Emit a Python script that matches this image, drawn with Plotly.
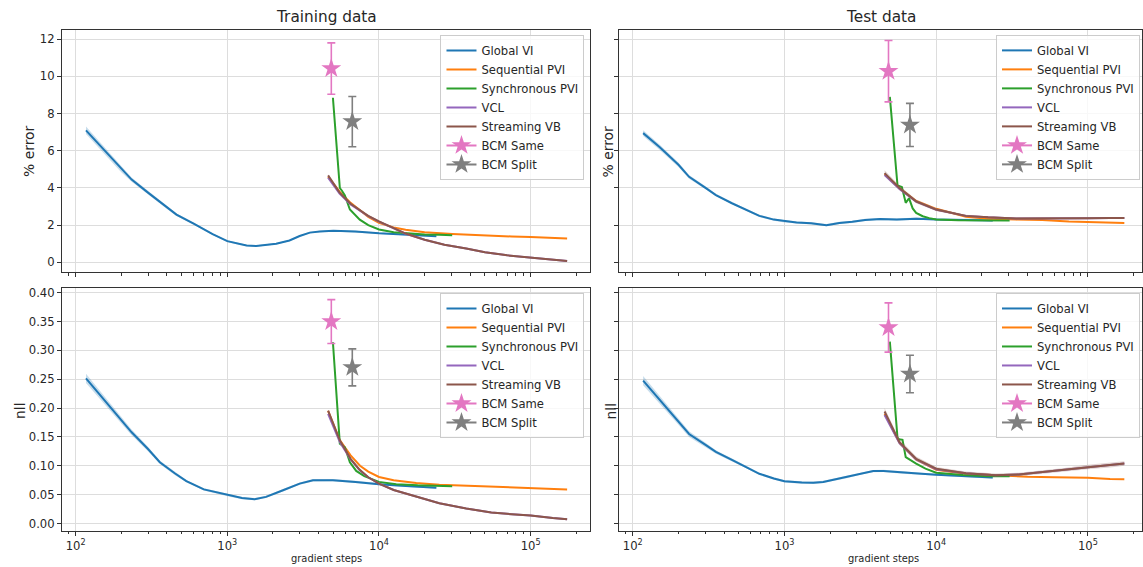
import plotly.graph_objects as go

W, H = 1143, 567

# ---------------- colours ----------------
C_GVI = "#1f77b4"
C_SEQ = "#ff7f0e"
C_SYN = "#2ca02c"
C_VCL = "#9467bd"
C_SVB = "#8c564b"
C_BSAME = "#e377c2"
C_BSPLIT = "#7f7f7f"

series_names = ["Global VI", "Sequential PVI", "Synchronous PVI", "VCL", "Streaming VB", "BCM Same", "BCM Split"]

# ================= TRAINING % ERROR =================
gvi_tr_err_x = [117, 150, 200, 234, 300, 400, 462, 600, 800, 1000, 1200, 1340, 1550, 1800, 2100, 2570, 3000, 3500, 4070, 5000, 7000, 10000, 15000, 23900]
gvi_tr_err_y = [7.1, 6.15, 5.0, 4.45, 3.75, 2.95, 2.57, 2.08, 1.52, 1.14, 0.98, 0.91, 0.88, 0.92, 1.0, 1.18, 1.42, 1.6, 1.66, 1.70, 1.66, 1.56, 1.50, 1.41]
gvi_tr_err_sd = [0.2, 0.18, 0.15, 0.12, 0.1, 0.08, 0.07, 0.06, 0.05, 0.05, 0.05, 0.04, 0.04, 0.04, 0.04, 0.04, 0.04, 0.04, 0.04, 0.04, 0.04, 0.04, 0.04, 0.04]

seq_tr_err_x = [4620, 5500, 6500, 7500, 8500, 10000, 12500, 15000, 20000, 30500, 50000, 75000, 100000, 140000, 174000]
seq_tr_err_y = [4.6, 3.8, 3.2, 2.8, 2.45, 2.12, 1.88, 1.75, 1.62, 1.53, 1.44, 1.39, 1.36, 1.31, 1.29]

syn_tr_err_x = [4970, 5520, 5700, 5960, 6430, 6900, 7470, 8500, 10000, 12500, 15800, 20000, 25000, 30400]
syn_tr_err_y = [8.85, 4.0, 3.85, 3.6, 2.84, 2.6, 2.3, 2.0, 1.77, 1.62, 1.55, 1.5, 1.48, 1.46]

vcl_tr_err_x = [4620, 5500, 6500, 7500, 8500, 10000, 12500, 15000, 20000, 27000, 37600, 50000, 70000, 100000, 140000, 174000]
vcl_tr_err_y = [4.55, 3.7, 3.12, 2.78, 2.48, 2.19, 1.81, 1.54, 1.22, 0.95, 0.75, 0.55, 0.38, 0.25, 0.13, 0.07]

svb_tr_err_x = [4620, 5500, 6500, 7500, 8500, 10000, 12500, 15000, 20000, 27000, 37600, 50000, 70000, 100000, 140000, 174000]
svb_tr_err_y = [4.68, 3.75, 3.15, 2.8, 2.5, 2.2, 1.82, 1.55, 1.22, 0.95, 0.75, 0.55, 0.38, 0.25, 0.13, 0.07]

bsame_tr_err = (4850, 10.42, 1.38)
bsplit_tr_err = (6670, 7.57, 1.35)

# ================= TEST % ERROR =================
gvi_te_err_x = [117, 150, 200, 235, 300, 353, 450, 560, 683, 850, 1000, 1200, 1500, 1890, 2300, 2800, 3400, 4270, 5500, 7400, 10000, 14000, 19000, 23600]
gvi_te_err_y = [6.95, 6.2, 5.25, 4.6, 4.02, 3.62, 3.18, 2.82, 2.5, 2.3, 2.21, 2.15, 2.1, 2.0, 2.12, 2.18, 2.28, 2.33, 2.3, 2.35, 2.3, 2.28, 2.3, 2.25]
gvi_te_err_sd = [0.15, 0.14, 0.12, 0.1, 0.08, 0.07, 0.06, 0.06, 0.06, 0.06, 0.06, 0.06, 0.06, 0.06, 0.06, 0.06, 0.06, 0.06, 0.06, 0.06, 0.06, 0.06, 0.06, 0.06]

seq_te_err_x = [4570, 5730, 7380, 10000, 15700, 22000, 33600, 50000, 75000, 100000, 140000, 174000]
seq_te_err_y = [4.75, 4.0, 3.3, 2.88, 2.45, 2.35, 2.3, 2.28, 2.2, 2.16, 2.14, 2.12]

syn_te_err_x = [4950, 5560, 5940, 6300, 6620, 7000, 7380, 8150, 9000, 10000, 14000, 20000, 30500]
syn_te_err_y = [8.9, 4.14, 4.05, 3.2, 3.45, 2.9, 2.66, 2.48, 2.38, 2.3, 2.26, 2.24, 2.25]

vcl_te_err_x = [4570, 5730, 7380, 10000, 15700, 22000, 33600, 50000, 75000, 100000, 140000, 174000]
vcl_te_err_y = [4.7, 3.95, 3.26, 2.83, 2.5, 2.42, 2.36, 2.35, 2.36, 2.37, 2.38, 2.39]

svb_te_err_x = [4570, 5730, 7380, 10000, 15700, 22000, 33600, 50000, 75000, 100000, 140000, 174000]
svb_te_err_y = [4.8, 4.0, 3.28, 2.84, 2.5, 2.42, 2.36, 2.35, 2.36, 2.37, 2.38, 2.39]
svb_te_err_sd = [0.15, 0.12, 0.1, 0.08, 0.06, 0.05, 0.05, 0.05, 0.05, 0.05, 0.05, 0.05]

bsame_te_err = (4850, 10.28, 1.65)
bsplit_te_err = (6715, 7.39, 1.16)

# ================= TRAINING NLL =================
gvi_tr_nll_x = [117, 150, 200, 234, 300, 359, 450, 537, 700, 1000, 1250, 1515, 1800, 2330, 3000, 3670, 4970, 7000, 10000, 15000, 23900]
gvi_tr_nll_y = [0.2515, 0.218, 0.18, 0.158, 0.129, 0.106, 0.087, 0.0735, 0.059, 0.049, 0.044, 0.042, 0.046, 0.0575, 0.069, 0.0748, 0.075, 0.072, 0.068, 0.065, 0.062]
gvi_tr_nll_sd = [0.008, 0.007, 0.006, 0.005, 0.004, 0.003, 0.003, 0.002, 0.002, 0.002, 0.002, 0.002, 0.002, 0.002, 0.002, 0.002, 0.002, 0.002, 0.002, 0.002, 0.002]

seq_tr_nll_x = [4620, 5500, 6500, 7500, 8500, 10000, 12500, 17600, 25000, 40000, 60000, 100000, 174000]
seq_tr_nll_y = [0.195, 0.145, 0.118, 0.100, 0.090, 0.0805, 0.075, 0.070, 0.067, 0.065, 0.063, 0.062, 0.059]

syn_tr_nll_x = [4970, 5520, 5960, 6430, 7080, 8000, 10000, 13000, 18000, 24000, 30400]
syn_tr_nll_y = [0.314, 0.138, 0.132, 0.106, 0.091, 0.082, 0.072, 0.068, 0.066, 0.065, 0.0644]

vcl_tr_nll_x = [4620, 5520, 6500, 7470, 8500, 10000, 12500, 17600, 25000, 37600, 55000, 75000, 100000, 140000, 174000]
vcl_tr_nll_y = [0.19, 0.141, 0.111, 0.092, 0.080, 0.069, 0.058, 0.046, 0.035, 0.026, 0.019, 0.016, 0.0138, 0.0095, 0.0074]

svb_tr_nll_x = [4620, 5520, 6500, 7470, 8500, 10000, 12500, 17600, 25000, 37600, 55000, 75000, 100000, 140000, 174000]
svb_tr_nll_y = [0.1957, 0.144, 0.112, 0.093, 0.080, 0.069, 0.058, 0.046, 0.035, 0.026, 0.019, 0.016, 0.0138, 0.0095, 0.0074]

bsame_tr_nll = (4850, 0.350, 0.038)
bsplit_tr_nll = (6670, 0.2705, 0.032)

# ================= TEST NLL =================
gvi_te_nll_x = [117, 150, 200, 235, 300, 353, 450, 560, 683, 850, 1000, 1300, 1550, 1800, 2570, 3200, 3850, 4500, 6000, 8000, 10000, 15000, 23600]
gvi_te_nll_y = [0.2475, 0.2145, 0.177, 0.155, 0.1365, 0.124, 0.110, 0.0975, 0.086, 0.078, 0.073, 0.071, 0.0705, 0.072, 0.0805, 0.087, 0.0908, 0.091, 0.088, 0.086, 0.0846, 0.082, 0.0795]
gvi_te_nll_sd = [0.008, 0.007, 0.006, 0.005, 0.004, 0.003, 0.003, 0.002, 0.002, 0.002, 0.002, 0.002, 0.002, 0.002, 0.002, 0.002, 0.002, 0.002, 0.002, 0.002, 0.002, 0.002, 0.002]

seq_te_nll_x = [4570, 5730, 7380, 10000, 15700, 25000, 40000, 60000, 100000, 140000, 174000]
seq_te_nll_y = [0.19, 0.14, 0.111, 0.093, 0.086, 0.083, 0.081, 0.080, 0.0794, 0.077, 0.0765]

syn_te_nll_x = [4950, 5560, 5700, 6000, 6300, 7380, 8500, 10000, 15000, 22000, 30500]
syn_te_nll_y = [0.315, 0.1485, 0.146, 0.145, 0.115, 0.1036, 0.095, 0.088, 0.084, 0.082, 0.0817]

vcl_te_nll_x = [4570, 5730, 7380, 10000, 15700, 24600, 35000, 49000, 70000, 100000, 140000, 174000]
vcl_te_nll_y = [0.188, 0.139, 0.111, 0.094, 0.087, 0.0834, 0.085, 0.089, 0.093, 0.0978, 0.101, 0.104]

svb_te_nll_x = [4570, 5730, 7380, 10000, 15700, 24600, 35000, 49000, 70000, 100000, 140000, 174000]
svb_te_nll_y = [0.194, 0.141, 0.112, 0.095, 0.087, 0.0834, 0.085, 0.089, 0.093, 0.0978, 0.101, 0.104]
svb_te_nll_sd = [0.006, 0.005, 0.004, 0.003, 0.003, 0.003, 0.003, 0.003, 0.003, 0.004, 0.004, 0.004]

bsame_te_nll = (4850, 0.3396, 0.0426)
bsplit_te_nll = (6715, 0.259, 0.0326)

# ---------------- tick labels ----------------
x_major_vals = [100, 1000, 10000, 100000]
x_major_text = ["10<sup>2</sup>", "10<sup>3</sup>", "10<sup>4</sup>", "10<sup>5</sup>"]
x_minor_vals = [m * 10 ** k for k in range(1, 6) for m in range(2, 10)]
err_ticks = [0, 2, 4, 6, 8, 10, 12]
nll_ticks = [0.0, 0.05, 0.10, 0.15, 0.20, 0.25, 0.30, 0.35, 0.40]

# ---------------- helpers ----------------
def rgba(hexc, a):
    h = hexc.lstrip("#")
    return "rgba(%d,%d,%d,%s)" % (int(h[0:2], 16), int(h[2:4], 16), int(h[4:6], 16), a)

fig = go.Figure()

def add_line(xa, ya, leg, name, x, y, color, sd=None):
    if sd is not None:
        upper = [a + b for a, b in zip(y, sd)]
        lower = [a - b for a, b in zip(y, sd)]
        fig.add_trace(go.Scatter(x=list(x) + list(x)[::-1], y=upper + lower[::-1], fill="toself",
                                 fillcolor=rgba(color, 0.25), line=dict(width=0), hoverinfo="skip",
                                 showlegend=False, xaxis=xa, yaxis=ya, legend=leg))
    fig.add_trace(go.Scatter(x=x, y=y, mode="lines", name=name, line=dict(color=color, width=2),
                             xaxis=xa, yaxis=ya, legend=leg))

def add_bcm(xa, ya, leg, name, pt, color):
    fig.add_trace(go.Scatter(x=[pt[0]], y=[pt[1]], mode="lines+markers", name=name,
                             marker=dict(symbol="star", size=15, color=color, line=dict(width=0)),
                             line=dict(color=color, width=2),
                             error_y=dict(type="data", array=[pt[2]], color=color, thickness=1.6, width=4),
                             xaxis=xa, yaxis=ya, legend=leg))

panels = [
    ("x", "y", "legend",
     (gvi_tr_err_x, gvi_tr_err_y, gvi_tr_err_sd), (seq_tr_err_x, seq_tr_err_y, None), (syn_tr_err_x, syn_tr_err_y, None),
     (vcl_tr_err_x, vcl_tr_err_y, None), (svb_tr_err_x, svb_tr_err_y, None), bsame_tr_err, bsplit_tr_err),
    ("x2", "y2", "legend2",
     (gvi_te_err_x, gvi_te_err_y, gvi_te_err_sd), (seq_te_err_x, seq_te_err_y, None), (syn_te_err_x, syn_te_err_y, None),
     (vcl_te_err_x, vcl_te_err_y, None), (svb_te_err_x, svb_te_err_y, svb_te_err_sd), bsame_te_err, bsplit_te_err),
    ("x3", "y3", "legend3",
     (gvi_tr_nll_x, gvi_tr_nll_y, gvi_tr_nll_sd), (seq_tr_nll_x, seq_tr_nll_y, None), (syn_tr_nll_x, syn_tr_nll_y, None),
     (vcl_tr_nll_x, vcl_tr_nll_y, None), (svb_tr_nll_x, svb_tr_nll_y, None), bsame_tr_nll, bsplit_tr_nll),
    ("x4", "y4", "legend4",
     (gvi_te_nll_x, gvi_te_nll_y, gvi_te_nll_sd), (seq_te_nll_x, seq_te_nll_y, None), (syn_te_nll_x, syn_te_nll_y, None),
     (vcl_te_nll_x, vcl_te_nll_y, None), (svb_te_nll_x, svb_te_nll_y, svb_te_nll_sd), bsame_te_nll, bsplit_te_nll),
]

line_colors = [C_GVI, C_SEQ, C_SYN, C_VCL, C_SVB]
for p in panels:
    xa, ya, leg = p[0], p[1], p[2]
    for i, (sx, sy, ssd) in enumerate(p[3:8]):
        add_line(xa, ya, leg, series_names[i], sx, sy, line_colors[i], ssd)
    add_bcm(xa, ya, leg, series_names[5], p[8], C_BSAME)
    add_bcm(xa, ya, leg, series_names[6], p[9], C_BSPLIT)

# ---------------- layout ----------------
TXT = "#262626"
FONT = "DejaVu Sans"
GRID = "#dddddd"
FRAME = "#333333"

def px_x(v):
    return v / W

def px_y(v):
    return 1 - v / H

xdom_l = [px_x(62), px_x(591)]
xdom_r = [px_x(620), 1.0]
ydom_t = [px_y(271), px_y(28)]
ydom_b = [px_y(530.7), px_y(286.7)]

def xaxis(dom, rng, anchor, labels):
    return dict(type="log", domain=dom, range=rng, anchor=anchor,
                tickmode="array", tickvals=x_major_vals, ticktext=x_major_text,
                showticklabels=labels, ticks="outside", ticklen=4, tickwidth=1, tickcolor=FRAME,
                minor=dict(tickmode="array", tickvals=x_minor_vals, ticks="outside", ticklen=2.5,
                           tickwidth=0.8, tickcolor=FRAME, showgrid=False),
                showgrid=True, gridcolor=GRID, gridwidth=1,
                showline=True, linecolor=FRAME, linewidth=1, mirror=True, zeroline=False,
                tickfont=dict(family=FONT, size=11.6, color=TXT))

def yaxis(dom, rng, anchor, vals, fmt, labels):
    return dict(domain=dom, range=rng, anchor=anchor, tickmode="array", tickvals=vals,
                tickformat=fmt, showticklabels=labels, ticks="outside", ticklen=4, tickwidth=1,
                tickcolor=FRAME, showgrid=True, gridcolor=GRID, gridwidth=1,
                showline=True, linecolor=FRAME, linewidth=1, mirror=True, zeroline=False,
                tickfont=dict(family=FONT, size=11.6, color=TXT))

xr_l = [1.9097, 5.3946]
xr_r = [1.912, 5.357]
err_rng = [-0.52, 12.5]
nll_rng = [-0.0128, 0.4086]

def legend(xr, yt):
    return dict(x=xr, y=yt, xanchor="right", yanchor="top", bgcolor="rgba(255,255,255,0.8)",
                bordercolor="#cccccc", borderwidth=1, itemwidth=30, tracegroupgap=0,
                font=dict(family=FONT, size=11.6, color=TXT), traceorder="normal")

fig.update_layout(
    width=W, height=H, margin=dict(l=0, r=0, t=0, b=0),
    paper_bgcolor="white", plot_bgcolor="white", showlegend=True,
    xaxis=xaxis(xdom_l, xr_l, "y", False),
    yaxis=yaxis(ydom_t, err_rng, "x", err_ticks, "d", True),
    xaxis2=xaxis(xdom_r, xr_r, "y2", False),
    yaxis2=yaxis(ydom_t, err_rng, "x2", err_ticks, "d", False),
    xaxis3=xaxis(xdom_l, xr_l, "y3", True),
    yaxis3=yaxis(ydom_b, nll_rng, "x3", nll_ticks, ".2f", True),
    xaxis4=xaxis(xdom_r, xr_r, "y4", True),
    yaxis4=yaxis(ydom_b, nll_rng, "x4", nll_ticks, ".2f", False),
    legend=legend(px_x(585), px_y(33)),
    legend2=legend(px_x(1141), px_y(33)),
    legend3=legend(px_x(585), px_y(292)),
    legend4=legend(px_x(1141), px_y(292)),
)

ann = []
def text(x, y, s, size, angle=0):
    ann.append(dict(x=px_x(x), y=px_y(y), xref="paper", yref="paper", text=s, showarrow=False,
                    textangle=angle, xanchor="center", yanchor="middle",
                    font=dict(family=FONT, size=size, color=TXT)))

text(327, 15, "Training data", 15.3)
text(882, 15, "Test data", 15.3)
text(29, 149.5, "% error", 13.9, -90)
text(609, 149.5, "% error", 13.9, -90)
text(19.5, 410, "nll", 13.9, -90)
text(611.5, 410, "nll", 13.9, -90)
text(327, 558, "gradient steps", 9.9)
text(884, 558, "gradient steps", 9.9)
fig.update_layout(annotations=ann)

fig.write_html("out.html", config={"displayModeBar": False},
               post_script="document.body.style.margin='0px';document.body.style.padding='0px';")
